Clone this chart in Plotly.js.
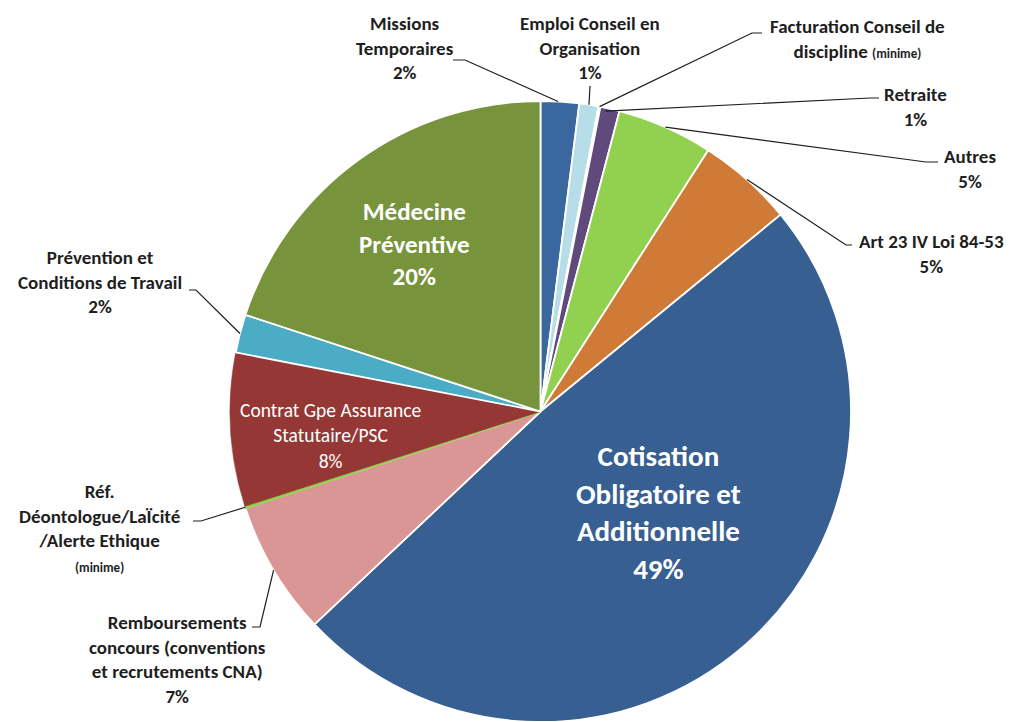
<!DOCTYPE html>
<html>
<head>
<meta charset="utf-8">
<script src="https://cdn.plot.ly/plotly-3.0.1.min.js"></script>
<style>
  html, body { margin: 0; padding: 0; background: #ffffff; }
  #chart { width: 1013px; height: 722px; }
</style>
</head>
<body>
<div id="chart"></div>
<script>
// Répartition des recettes par poste
const categories = [
  'Missions Temporaires',
  'Emploi Conseil en Organisation',
  'Facturation Conseil de discipline',
  'Retraite',
  'Autres',
  'Art 23 IV Loi 84-53',
  'Cotisation Obligatoire et Additionnelle',
  'Remboursements concours (conventions et recrutements CNA)',
  'Réf. Déontologue/LaÏcité/Alerte Ethique',
  'Contrat Gpe Assurance Statutaire/PSC',
  'Prévention et Conditions de Travail',
  'Médecine Préventive'
];
const shares = [2, 1, 0.1, 1, 5, 5, 49, 7, 0.1, 8, 2, 20];
const minime = [false, false, true, false, false, false, false, false, true, false, false, false];
const labelLines = [
  'Missions<br>Temporaires',
  'Emploi Conseil en<br>Organisation',
  'Facturation Conseil de<br>discipline',
  'Retraite',
  'Autres',
  'Art 23 IV Loi 84-53',
  'Cotisation<br>Obligatoire et<br>Additionnelle',
  'Remboursements<br>concours (conventions<br>et recrutements CNA)',
  'Réf.<br>Déontologue/LaÏcité<br>/Alerte Ethique',
  'Contrat Gpe Assurance<br>Statutaire/PSC',
  'Prévention et<br>Conditions de Travail',
  'Médecine<br>Préventive'
];
const sliceColors = [
  '#3b679f', '#b7dde8', '#e4dff0', '#60497b', '#92d050', '#cf7b37',
  '#375f91', '#d99694', '#92d050', '#953735', '#4bacc6', '#77933c'
];

// Canvas and pie geometry (pixels)
const W = 1013, H = 722;
const box = { left: 230, right: 851, top: 101, bottom: 722 };
const R = (box.right - box.left) / 2;
const cx = (box.left + box.right) / 2;
const cy = (box.top + box.bottom) / 2;
const FONT = 'Carlito, Lato, sans-serif';

const total = shares.reduce((a, b) => a + b, 0);
const starts = [];
shares.reduce((acc, v, i) => { starts[i] = acc; return acc + v; }, 0);

// Point on the rim of slice i (frac = position along the slice)
function rimPoint(i, frac, rf) {
  const c = starts[i] + shares[i] * frac;
  const th = 2 * Math.PI * c / total;
  return [cx + R * rf * Math.sin(th), cy - R * rf * Math.cos(th)];
}
const px = x => x / W;
const py = y => 1 - y / H;

function labelText(i, small) {
  const pct = minime[i]
    ? '<span style="font-size:' + small + 'px">(minime)</span>'
    : Math.round(100 * shares[i] / total) + '%';
  return { name: labelLines[i], pct: pct };
}

// Label placement: centre of text block, font size, colour, leader path
const place = [
  { i: 0, x: 405, y: 48, size: 19, lead: [[453, 60], [465, 60]], frac: 0.45 },
  { i: 1, x: 590, y: 48, size: 19, lead: [[590, 86]], frac: 0.5 },
  { i: 2, x: 857, y: 39, size: 19, lead: [[762, 33], [752, 33]], frac: 0.5, inline: true },
  { i: 3, x: 915, y: 107, size: 19, lead: [[879, 98], [870, 98]], frac: 0.3, rf: 0.99 },
  { i: 4, x: 970, y: 169, size: 19, lead: [[938, 162], [926, 162]], frac: 0.5 },
  { i: 5, x: 931, y: 254, size: 19, lead: [[852, 245], [846, 245]], frac: 0.5 },
  { i: 7, x: 177, y: 659, size: 19, lead: [[252, 627], [260, 627]], frac: 0.5 },
  { i: 8, x: 99, y: 527, size: 19, lead: [[193, 521], [201, 521]], frac: 0.5 },
  { i: 10, x: 100, y: 282, size: 19, lead: [[189, 290], [196, 290]], frac: 0.5 },
  { i: 6, x: 658, y: 512, size: 29, white: true, bold: true },
  { i: 11, x: 414, y: 244, size: 25, white: true, bold: true },
  { i: 9, x: 330, y: 435, size: 19.5, white: true, bold: false }
];

const annotations = [];
const shapes = [];
place.forEach(p => {
  const t = labelText(p.i, 13);
  const text = p.inline ? t.name + ' ' + t.pct : t.name + '<br>' + t.pct;
  const bold = p.bold !== false;
  annotations.push({
    xref: 'paper', yref: 'paper',
    x: px(p.x), y: py(p.y),
    xanchor: 'center', yanchor: 'middle',
    text: bold ? '<b>' + text + '</b>' : text,
    showarrow: false, align: 'center',
    font: { family: FONT, size: p.size, color: p.white ? '#ffffff' : '#1e1e1e' }
  });
  if (p.lead) {
    const pts = p.lead.concat([rimPoint(p.i, p.frac, p.rf || 1)]);
    const d = pts.map((q, k) => (k ? 'L' : 'M') + px(q[0]) + ',' + py(q[1])).join(' ');
    shapes.push({
      type: 'path', xref: 'paper', yref: 'paper', path: d,
      line: { color: '#1e1e1e', width: 1.2 }
    });
  }
});

// Slice borders: white, except the thin green slice and its red neighbour
const lineColors = sliceColors.map((c, i) => i === 8 ? '#92d050' : (i === 9 ? '#953735' : '#ffffff'));
const lineWidths = sliceColors.map((c, i) => i === 8 ? 2 : (i === 9 ? 0.5 : 1.8));

const trace = {
  type: 'pie',
  labels: categories,
  values: shares,
  sort: false,
  direction: 'clockwise',
  rotation: 0,
  textinfo: 'none',
  hoverinfo: 'label+percent',
  showlegend: false,
  marker: { colors: sliceColors, line: { color: lineColors, width: lineWidths } },
  domain: { x: [box.left / W, box.right / W], y: [1 - box.bottom / H, 1 - box.top / H] }
};

const layout = {
  width: W, height: H,
  margin: { l: 0, r: 0, t: 0, b: 0 },
  paper_bgcolor: '#ffffff',
  showlegend: false,
  annotations: annotations,
  shapes: shapes
};

Plotly.newPlot('chart', [trace], layout, { displayModeBar: false, staticPlot: true });
</script>
</body>
</html>
